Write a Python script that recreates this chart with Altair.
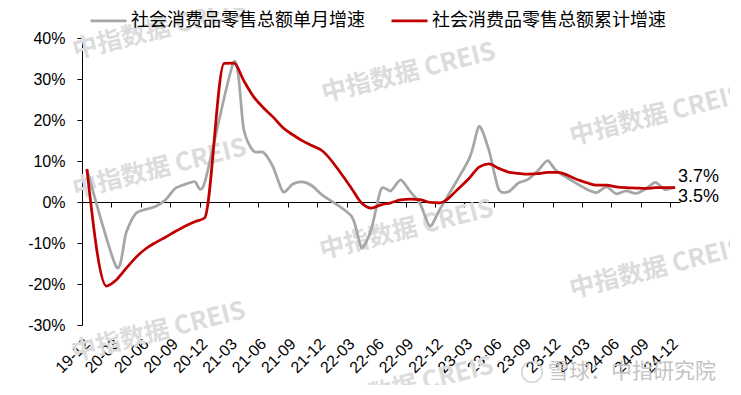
import json
import altair as alt
import pandas as pd

S1 = "社会消费品零售总额单月增速"
S2 = "社会消费品零售总额累计增速"
GRAY = "#A6A6A6"
RED = "#C00000"

months = ["19-12"] + [f"{y}-{m:02d}" for y in range(20, 25) for m in range(1, 13)]

single_month = [
    8.0,
    None, None, -15.8, -7.5, -2.8, -1.8, -1.1, 0.5, 3.3, 4.3, 5.0, 4.6,
    None, None, 34.2, 17.7, 12.4, 12.1, 8.5, 2.5, 4.4, 4.9, 3.9, 1.7,
    None, None, -3.5, -11.1, -6.7, 3.1, 2.7, 5.4, 2.5, -0.5, -5.9, -1.8,
    None, None, 10.6, 18.4, 12.7, 3.1, 2.5, 4.6, 5.5, 7.6, 10.1, 7.4,
    None, None, 3.1, 2.3, 3.7, 2.0, 2.7, 2.1, 3.2, 4.8, 3.0, 3.7,
]
cumulative = [
    8.0,
    None, -20.5, -19.0, -16.2, -13.5, -11.4, -9.9, -8.6, -7.2, -5.9, -4.8, -3.9,
    None, 33.8, 33.9, 29.6, 25.7, 23.0, 20.7, 18.1, 16.4, 14.9, 13.7, 12.5,
    None, 6.7, 3.3, -0.2, -1.5, -0.7, -0.2, 0.5, 0.7, 0.6, -0.1, -0.2,
    None, 3.5, 5.8, 8.5, 9.3, 8.2, 7.3, 7.0, 6.8, 6.9, 7.2, 7.2,
    None, 5.5, 4.7, 4.1, 4.1, 3.7, 3.5, 3.4, 3.3, 3.5, 3.5, 3.5,
]
y_ticks = [-30, -20, -10, 0, 10, 20, 30, 40]
x_ticks = list(range(0, 61, 3))

rows = []
for i, m in enumerate(months):
    rows.append({"idx": i, "month": m, "series": S1, "value": single_month[i]})
    rows.append({"idx": i, "month": m, "series": S2, "value": cumulative[i]})
df = pd.DataFrame(rows).dropna()

W, H = 598, 287
LAT = "Liberation Sans"
CJK = "Noto Sans CJK SC"

x_axis = alt.Axis(
    values=x_ticks,
    labelExpr=f"{json.dumps(months)}[datum.value]",
    labelAngle=-45,
    labelAlign="right",
    labelBaseline="middle",
    labelFont=LAT,
    labelFontSize=16,
    labelColor="black",
    labelOverlap=False,
    labelFlush=False,
    labelBound=False,
    labelSeparation=0,
    tickSize=5,
    tickColor="black",
    tickOffset=-4.9,
    labelOffset=4.9,
    offset=-H * 30 / 70,
    labelPadding=134,
    domainColor="black",
    grid=False,
    title=None,
)
x_enc = alt.X(
    "idx:Q",
    scale=alt.Scale(domain=[-0.5, 60.5], nice=False, zero=False),
    axis=x_axis,
)
y_enc = alt.Y(
    "value:Q",
    scale=alt.Scale(domain=[-30, 40], nice=False, zero=False),
    axis=alt.Axis(
        values=y_ticks,
        labelExpr="datum.value + '%'",
        labelFont=LAT,
        labelFontSize=16,
        labelColor="black",
        tickSize=5,
        tickColor="black",
        labelPadding=12,
        domainColor="black",
        grid=False,
        title=None,
    ),
)
color_enc = alt.Color(
    "series:N",
    scale=alt.Scale(domain=[S1, S2], range=[GRAY, RED]),
    legend=alt.Legend(
        orient="none",
        legendX=7,
        legendY=-37,
        direction="horizontal",
        title=None,
        symbolType="stroke",
        symbolSize=1296,
        symbolStrokeWidth=2.75,
        labelFont=CJK,
        labelFontSize=18,
        labelColor="black",
        columnPadding=21,
        labelOffset=3,
        padding=0,
        labelLimit=400,
    ),
)

base = alt.Chart(df)

gray_line = base.transform_filter(alt.datum.series == S1).mark_line(
    interpolate="cardinal", tension=0.25, strokeWidth=2.75
).encode(x=x_enc, y=y_enc, color=color_enc)

red_line = base.transform_filter(alt.datum.series == S2).mark_line(
    interpolate="monotone", strokeWidth=2.75
).encode(x=x_enc, y=y_enc, color=color_enc)

def end_label(series, dy):
    return base.transform_filter(
        (alt.datum.series == series) & (alt.datum.idx == 60)
    ).transform_calculate(
        label="format(datum.value, '.1f') + '%'"
    ).mark_text(
        align="left", baseline="middle", dx=3, dy=dy, font=LAT, fontSize=18, color="black"
    ).encode(x=x_enc, y=y_enc, text="label:N")

lbl1 = end_label(S1, -10)
lbl2 = end_label(S2, 9)

wm_text = "中指数据 CREIS"
wm_pos = [(-9, 13), (240, 56), (488, 99), (-9, 152), (238, 213), (488, 252), (-10, 315), (238, 370)]
one = alt.Data(values=[{}])
wms = [
    alt.Chart(one).mark_text(
        text=wm_text, angle=346, align="left", baseline="middle", font=CJK,
        fontWeight="bold", fontSize=25, color="#dcdcdc"
    ).encode(x=alt.value(px), y=alt.value(py))
    for px, py in wm_pos
]

xq_text = alt.Chart(one).mark_text(
    text="雪球：中指研究院", align="left", baseline="middle", font=CJK,
    fontSize=21, color="#c4c4c4"
).encode(x=alt.value(466), y=alt.value(334))
xq_logo = alt.Chart(one).mark_point(
    shape="circle", filled=False, size=420, strokeWidth=1.5, color="#c4c4c4"
).encode(x=alt.value(450), y=alt.value(334))

chart = alt.layer(
    *wms, gray_line, red_line, lbl1, lbl2, xq_logo, xq_text
).properties(
    width=W,
    height=H,
    autosize=alt.AutoSizeParams(type="none"),
    padding={"left": 74, "top": 30, "right": 50, "bottom": 60},
    background="white",
).configure_view(stroke=None)

chart.save("out.html", embed_options={"renderer": "svg", "actions": False})
